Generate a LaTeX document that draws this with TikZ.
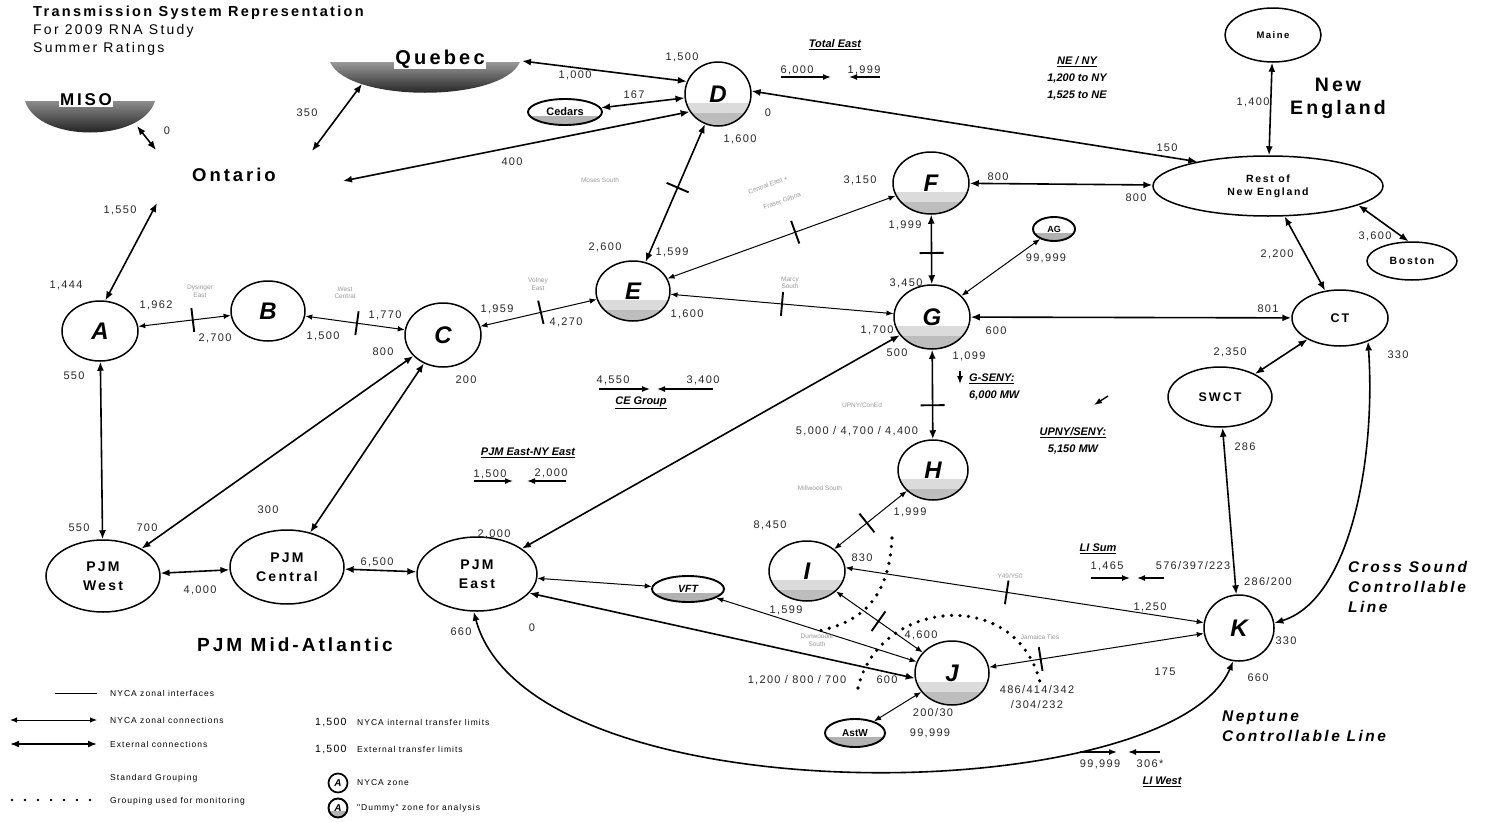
\documentclass[tikz,border=0pt]{standalone}
\usepackage{fontspec}
\setmainfont{Liberation Sans}
\newfontfamily\lsf[LetterSpace=12]{Liberation Sans}
\newfontfamily\wsf[LetterSpace=16]{Liberation Sans}
\usetikzlibrary{shapes.geometric,arrows.meta}
\newcommand{\zbar}{\rule[-12pt]{1.9pt}{24pt}}
\tikzset{
  every node/.style={inner sep=0pt},
  zone/.style={ellipse, draw, line width=1.5pt, inner sep=0pt, font=\fontsize{24}{24}\selectfont\bfseries\itshape},
  shz/.style={zone, path picture={\fill[black!14] ([yshift=-9pt]path picture bounding box.west) rectangle (path picture bounding box.south east);
     \fill[black!26] ([yshift=-19pt]path picture bounding box.west) rectangle (path picture bounding box.south east);}},
  dmy/.style={ellipse, draw, line width=1.9pt, inner sep=0pt, font=\fontsize{10}{10}\selectfont\bfseries,
    path picture={\fill[black!30] ([yshift=-4pt]path picture bounding box.west) rectangle (path picture bounding box.south east);}},
  extn/.style={ellipse, draw, line width=1.5pt, inner sep=0pt, align=center, font=\wsf\fontsize{14}{19}\selectfont\bfseries},
  lb/.style={font=\lsf\fontsize{11}{11}\selectfont, text=black!85},
  fl/.style={font=\fontsize{6.5}{7.5}\selectfont, text=black!40, align=center},
  intc/.style={line width=1pt, {Latex[length=7pt,width=5.5pt]}-{Latex[length=7pt,width=5.5pt]}},
  extc/.style={line width=1.6pt, {Latex[length=9pt,width=7pt]}-{Latex[length=9pt,width=7pt]}},
  tk/.style={sloped, pos=#1, inner sep=0pt},
  grp/.style={line width=3.6pt, line cap=round, dash pattern=on 0pt off 8.5pt},
  ann/.style={font=\fontsize{11}{17}\selectfont\bfseries\itshape, align=center},
  big/.style={font=\wsf\fontsize{18.5}{23}\selectfont\bfseries, align=center},
  sarr/.style={line width=1.4pt, -{Latex[length=8pt,width=6pt]}},
  lg/.style={font=\lsf\fontsize{8.5}{9}\selectfont, anchor=west},
}
\begin{document}
\begin{tikzpicture}[x=1pt,y=-1pt]
\useasboundingbox (0,0) rectangle (1489,822);
% ---------------- title
\node[anchor=west, font=\wsf\fontsize{14.5}{14.5}\selectfont\bfseries] (t1) at (33,13) {Transmission System Representation};
\node[anchor=west, font=\wsf\fontsize{14}{14}\selectfont] (t2) at (33,31) {For 2009 RNA Study};
\node[anchor=west, font=\wsf\fontsize{14}{14}\selectfont] (t3) at (33,49) {Summer Ratings};
% ---------------- external areas
\shade[top color=black!45, bottom color=black] (25,101) .. controls (38,143) and (142,143) .. (155,101) -- cycle;
\node[font=\wsf\fontsize{17}{17}\selectfont\bfseries, fill=white, inner sep=1pt] (miso) at (86,100) {MISO};
\shade[top color=black!40, bottom color=black] (330,62) .. controls (348,103) and (502,103) .. (520,62) -- cycle;
\node[font=\wsf\fontsize{20}{20}\selectfont\bfseries, fill=white, inner sep=1pt] (quebec) at (440,59) {Quebec};
\node[big] (ont) at (234,175) {Ontario};
\node[big, font=\wsf\fontsize{19.5}{23}\selectfont\bfseries] (ne) at (1338,98) {New\\England};
\node[font=\wsf\fontsize{19}{19}\selectfont\bfseries] (pjmma) at (295,645) {PJM Mid-Atlantic};
\node[font=\wsf\fontsize{15.5}{20}\selectfont\bfseries\itshape, align=left, anchor=west] (csl) at (1348,587) {Cross Sound\\Controllable\\Line};
\node[font=\wsf\fontsize{15.5}{20}\selectfont\bfseries\itshape, align=left, anchor=west] (nep) at (1222,726) {Neptune\\Controllable Line};
\coordinate (misoE) at (137,126);
\coordinate (ontM) at (156,150);
\coordinate (qSW) at (362,84);
\coordinate (ontQ) at (312,151);
\coordinate (qE) at (522,61);
\coordinate (ontD) at (343,181);
\coordinate (ontA) at (157,203);
% ---------------- zones
\node[shz, minimum width=66pt, minimum height=64pt] (D) at (718,94) {D};
\node[dmy, minimum width=74pt, minimum height=26pt, font=\fontsize{11}{11}\selectfont\bfseries] (ced) at (565,112) {Cedars};
\node[zone, minimum width=76pt, minimum height=60pt] (A) at (100,331) {A};
\node[zone, minimum width=74pt, minimum height=60pt] (B) at (268,311) {B};
\node[zone, minimum width=76pt, minimum height=64pt] (C) at (443,335) {C};
\node[shz, minimum width=74pt, minimum height=60pt] (E) at (633,291) {E};
\node[shz, minimum width=76pt, minimum height=62pt] (F) at (931,183) {F};
\node[shz, minimum width=76pt, minimum height=64pt] (G) at (932,317) {G};
\node[dmy, minimum width=42pt, minimum height=24pt, font=\fontsize{9}{9}\selectfont\bfseries] (AG) at (1054,229) {AG};
\node[shz, minimum width=70pt, minimum height=60pt] (H) at (933,470) {H};
\node[shz, minimum width=76pt, minimum height=60pt] (I) at (807,571) {I};
\node[shz, minimum width=74pt, minimum height=64pt] (J) at (952,673) {J};
\node[dmy, minimum width=60pt, minimum height=28pt] (AstW) at (855,733) {AstW};
\node[zone, minimum width=70pt, minimum height=66pt] (K) at (1239,628) {K};
\node[extn, minimum width=104pt, minimum height=60pt, font=\wsf\fontsize{12.5}{12.5}\selectfont\bfseries] (SWCT) at (1220,397) {SWCT};
\node[extn, minimum width=96pt, minimum height=56pt, font=\wsf\fontsize{12.5}{12.5}\selectfont\bfseries] (CT) at (1340,318) {CT};
\node[extn, minimum width=90pt, minimum height=38pt, font=\wsf\fontsize{10.5}{10.5}\selectfont\bfseries] (Bos) at (1412,261) {Boston};
\node[extn, minimum width=230pt, minimum height=60pt, font=\wsf\fontsize{10.5}{13}\selectfont\bfseries] (RNE) at (1268,186) {Rest of\\New England};
\node[extn, minimum width=96pt, minimum height=54pt, font=\wsf\fontsize{9.5}{9.5}\selectfont\bfseries] (Maine) at (1273,35) {Maine};
\node[extn, minimum width=114pt, minimum height=72pt] (PW) at (103,576) {PJM\\West};
\node[extn, minimum width=114pt, minimum height=74pt] (PC) at (287,567) {PJM\\Central};
\node[extn, minimum width=120pt, minimum height=74pt] (PE) at (477,574) {PJM\\East};
\node[dmy, minimum width=72pt, minimum height=26pt, font=\fontsize{10.5}{10.5}\selectfont\bfseries\itshape] (VFT) at (688,589) {VFT};
% ---------------- grouping (dotted)
\draw[grp] (892,538) .. controls (889,598) and (862,622) .. (818,631);
\draw[grp] (858,688) .. controls (878,600) and (1015,585) .. (1040,682);
% ---------------- connections
\draw[extc] (misoE) -- (ontM);
\draw[extc] (qSW) -- (ontQ);
\draw[extc] (qE) -- (D.158);
\draw[extc] (ced) -- (D);
\draw[extc] (D.212) -- (ontD);
\draw[extc] (D.5) -- (RNE.161);
\draw[extc] (ontA) -- (A.80);
\draw[intc] (A) -- node[tk=0.59]{\zbar} (B);
\draw[intc] (B) -- node[tk=0.52]{\zbar} (C);
\draw[intc] (C) -- node[tk=0.52]{\zbar} (E);
\draw[extc] (D) -- node[tk=0.46]{\zbar} (E);
\draw[intc] (E) -- node[tk=0.56]{\zbar} (F);
\draw[intc] (E) -- node[tk=0.50]{\zbar} (G);
\draw[extc] (F) -- node[tk=0.55]{\zbar} (G);
\draw[extc] (F) -- (RNE);
\draw[intc] (G) -- (AG);
\draw[extc] (G) -- (CT);
\draw[extc] (G) -- node[tk=0.62]{\zbar} (H);
\draw[extc] (G) -- (PE);
\draw[extc] (PW) -- (C);
\draw[extc] (PC) -- (C);
\draw[extc] (A) -- (PW);
\draw[extc] (PW) -- (PC);
\draw[extc] (PC) -- (PE);
\draw[intc] (PE) -- (VFT);
\draw[intc] (VFT) -- (J);
\draw[extc] (PE.-20) -- (J.188);
\draw[extc] (PE.-95) .. controls (530,820) and (1170,810) .. (K.-100);
\draw[extc] (CT.-40) .. controls (1376,460) and (1350,600) .. (K.8);
\draw[extc] (SWCT) -- (K);
\draw[extc] (SWCT) -- (CT);
\draw[extc] (RNE) -- (CT);
\draw[extc] (RNE.-12) -- (Bos.100);
\draw[extc] (RNE) -- (Maine);
\draw[intc] (H) -- node[tk=0.55]{\zbar} (I);
\draw[intc] (I.5) -- node[tk=0.45]{\zbar} (K);
\draw[intc] (I) -- node[tk=0.49]{\zbar} (J);
\draw[intc] (J) -- node[tk=0.24]{\zbar} (K);
\draw[intc] (J) -- (AstW);
% ---------------- interface names (faint)
\node[fl] (f1) at (200,291) {Dysinger\\East};
\node[fl] (f2) at (345,293) {West\\Central};
\node[fl] (f3) at (538,284) {Volney\\East};
\node[fl] (f4) at (600,180) {Moses South};
\node[fl, rotate=20] (f5a) at (768,185) {Central East +};
\node[fl, rotate=20] (f5b) at (782,201) {Fraser Gilboa};
\node[fl] (f6) at (790,283) {Marcy\\South};
\node[fl] (f7) at (862,405) {UPNY/ConEd};
\node[fl] (f8) at (820,488) {Millwood South};
\node[fl] (f9) at (817,640) {Dunwoodie\\South};
\node[fl] (f10) at (1010,576) {Y49/Y50};
\node[fl] (f11) at (1040,637) {Jamaica Ties};
% ---------------- transfer limits
\node[lb] (n1) at (167,131) {0};
\node[lb] (n2) at (307,113) {350};
\node[lb] (n3) at (575,75) {1,000};
\node[lb] (n4) at (682,57) {1,500};
\node[lb] (n5) at (634,95) {167};
\node[lb] (n6) at (512,162) {400};
\node[lb] (n7) at (768,113) {0};
\node[lb] (n8) at (740,139) {1,600};
\node[lb] (n9) at (1167,148) {150};
\node[lb] (n10) at (1253,102) {1,400};
\node[lb] (n11) at (998,177) {800};
\node[lb] (n12) at (1136,198) {800};
\node[lb] (n13) at (1375,236) {3,600};
\node[lb] (n14) at (1277,254) {2,200};
\node[lb] (n15) at (1268,309) {801};
\node[lb] (n16) at (1398,355) {330};
\node[lb] (n17) at (1230,352) {2,350};
\node[lb] (n18) at (1245,447) {286};
\node[lb] (n19) at (1268,582) {286/200};
\node[lb] (n20) at (1286,641) {330};
\node[lb] (n21) at (1258,678) {660};
\node[lb] (n22) at (1165,672) {175};
\node[lb] (n23) at (1150,607) {1,250};
\node[lb] (n24) at (120,210) {1,550};
\node[lb] (n25) at (66,285) {1,444};
\node[lb] (n26) at (156,305) {1,962};
\node[lb] (n27) at (215,338) {2,700};
\node[lb] (n28) at (323,336) {1,500};
\node[lb] (n29) at (385,315) {1,770};
\node[lb] (n30) at (383,352) {800};
\node[lb] (n31) at (466,380) {200};
\node[lb] (n32) at (497,309) {1,959};
\node[lb] (n33) at (566,322) {4,270};
\node[lb] (n34) at (605,247) {2,600};
\node[lb] (n35) at (672,252) {1,599};
\node[lb] (n36) at (687,314) {1,600};
\node[lb] (n37) at (860,180) {3,150};
\node[lb] (n38) at (905,225) {1,999};
\node[lb] (n39) at (906,283) {3,450};
\node[lb] (n40) at (877,330) {1,700};
\node[lb] (n41) at (897,353) {500};
\node[lb] (n42) at (969,356) {1,099};
\node[lb] (n43) at (996,331) {600};
\node[lb] (n44) at (1046,258) {99,999};
\node[lb] (n45) at (857,431) {5,000 / 4,700 / 4,400};
\node[lb] (n46) at (910,512) {1,999};
\node[lb] (n47) at (770,525) {8,450};
\node[lb] (n48) at (862,558) {830};
\node[lb] (n49) at (786,610) {1,599};
\node[lb] (n50) at (921,635) {4,600};
\node[lb] (n51) at (797,680) {1,200 / 800 / 700};
\node[lb] (n52) at (887,680) {600};
\node[lb, align=center, font=\lsf\fontsize{11}{15}\selectfont] (n53) at (1037,697) {486/414/342\\/304/232};
\node[lb] (n54) at (933,713) {200/30};
\node[lb] (n55) at (930,733) {99,999};
\node[lb] (n56) at (494,534) {2,000};
\node[lb] (n57) at (461,632) {660};
\node[lb] (n58) at (532,628) {0};
\node[lb] (n59) at (377,562) {6,500};
\node[lb] (n60) at (200,590) {4,000};
\node[lb] (n61) at (74,376) {550};
\node[lb] (n62) at (79,528) {550};
\node[lb] (n63) at (147,528) {700};
\node[lb] (n64) at (268,510) {300};
% ---------------- interface summaries
\node[ann] (te) at (835,45) {\underline{Total East}};
\node[lb] (te1) at (797,70) {6,000};
\node[lb] (te2) at (864,70) {1,999};
\draw[sarr] (781,77) -- (831,77);
\draw[sarr] (880,77) -- (849,77);
\node[ann] (neny) at (1077,78) {\underline{NE / NY}\\1,200 to NY\\1,525 to NE};
\node[lb] (ce1) at (613,380) {4,550};
\node[lb] (ce2) at (703,380) {3,400};
\draw[sarr] (599,389) -- (650,389);
\draw[sarr] (713,389) -- (657,389);
\node[ann] (ce) at (641,403) {\underline{CE Group}};
\node[ann, anchor=west, align=left] (gs) at (969,387) {\underline{G-SENY:}\\6,000 MW};
\draw[sarr] (960,371) -- (960,384);
\node[ann] (us) at (1073,441) {\underline{UPNY/SENY:}\\5,150 MW};
\draw[sarr] (1108,396) -- (1094,405);
\node[ann] (pn) at (528,453) {\underline{PJM East-NY East}};
\node[lb] (pn1) at (490,474) {1,500};
\node[lb] (pn2) at (551,473) {2,000};
\draw[sarr] (474,481) -- (513,481);
\draw[sarr] (566,481) -- (527,481);
\node[ann] (ls) at (1098,549) {\underline{LI Sum}};
\node[lb] (ls1) at (1107,566) {1,465};
\node[lb] (ls2) at (1193,566) {576/397/223};
\draw[sarr] (1091,578) -- (1130,578);
\draw[sarr] (1164,578) -- (1137,578);
\draw[sarr] (1080,752) -- (1117,752);
\draw[sarr] (1160,752) -- (1128,752);
\node[lb] (lw1) at (1100,764) {99,999};
\node[lb] (lw2) at (1150,764) {306*};
\node[ann] (lw) at (1162,782) {\underline{LI West}};
% ---------------- legend
\coordinate (lg1a) at (55,693); \coordinate (lg1b) at (97,693);
\draw[line width=0.8pt] (lg1a) -- (lg1b);
\node[lg] (lt1) at (110,693) {NYCA zonal interfaces};
\coordinate (lg2a) at (10,720); \coordinate (lg2b) at (97,720);
\draw[intc] (lg2a) -- (lg2b);
\node[lg] (lt2) at (110,720) {NYCA zonal connections};
\coordinate (lg3a) at (10,744); \coordinate (lg3b) at (97,744);
\draw[extc] (lg3a) -- (lg3b);
\node[lg] (lt3) at (110,744) {External connections};
\node[lg] (lt4) at (110,778) {Standard Grouping};
\coordinate (lg5a) at (12,800); \coordinate (lg5b) at (95,800);
\draw[line width=2.6pt, line cap=round, dash pattern=on 0pt off 13pt] (lg5a) -- (lg5b);
\node[lg] (lt5) at (110,801) {Grouping used for monitoring};
\node[lg, font=\lsf\fontsize{10.5}{10.5}\selectfont] (lt6) at (315,722) {1,500};
\node[lg] (lt6b) at (357,722) {NYCA internal transfer limits};
\node[lg, font=\lsf\fontsize{10.5}{10.5}\selectfont] (lt7) at (315,749) {1,500};
\node[lg] (lt7b) at (357,749) {External transfer limits};
\node[circle, draw, line width=1.7pt, minimum size=19pt, font=\fontsize{10}{10}\selectfont\bfseries\itshape] (lgA) at (338,783) {A};
\node[lg] (lt8) at (357,783) {NYCA zone};
\node[circle, draw, line width=1.9pt, minimum size=19pt, font=\fontsize{10}{10}\selectfont\bfseries\itshape,
  path picture={\fill[black!30] ([yshift=-3pt]path picture bounding box.west) rectangle (path picture bounding box.south east);}] (lgB) at (338,808) {A};
\node[lg] (lt9) at (357,808) {"Dummy" zone for analysis};
\end{tikzpicture}
\end{document}
